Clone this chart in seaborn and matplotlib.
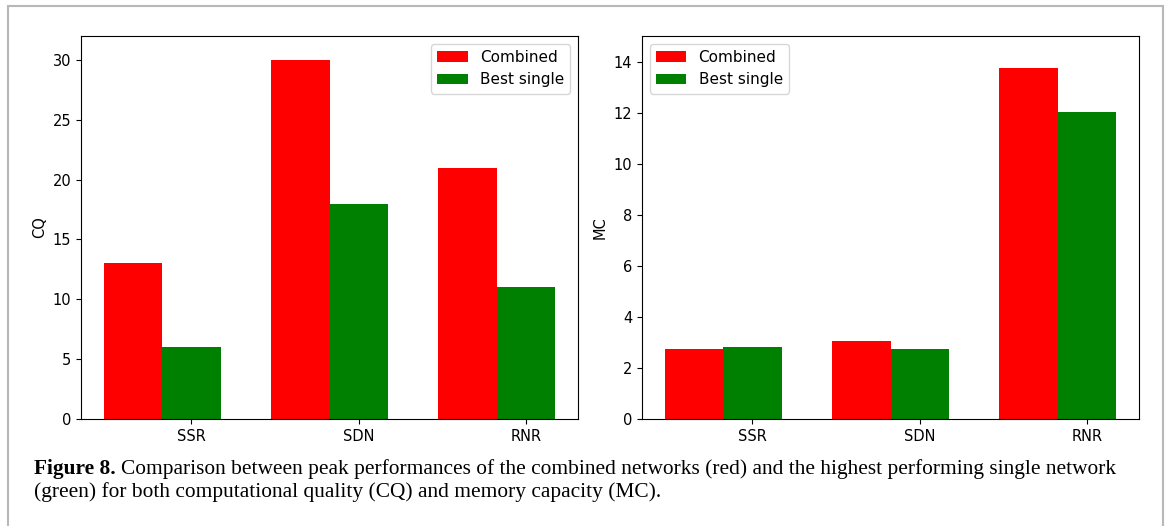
import matplotlib
matplotlib.use("Agg")
import matplotlib.pyplot as plt
import matplotlib.patches as mpatches
import pandas as pd
import seaborn as sns

networks = ["SSR", "SDN", "RNR"]
cq_combined = [13, 30, 21]
cq_best = [6, 18, 11]
mc_combined = [2.73, 3.04, 13.73]
mc_best = [2.81, 2.76, 12.04]

kinds = ["Combined", "Best single"]
colors = {"Combined": "red", "Best single": "green"}

df = pd.DataFrame({
    "net": networks * 2,
    "kind": ["Combined"] * 3 + ["Best single"] * 3,
    "CQ": cq_combined + cq_best,
    "MC": mc_combined + mc_best,
})

plt.rcParams["font.size"] = 10.5

W, H = 1168, 526
fig = plt.figure(figsize=(W / 100, H / 100), dpi=100)
# light grey frame round the whole figure, open at the bottom
fig.patches.append(mpatches.Rectangle((8 / W, -0.05), 1155 / W, 1.05 - 6 / H,
                                      transform=fig.transFigure, fill=False,
                                      edgecolor="#b8b8b8", linewidth=1.5))

ax1 = fig.add_axes([81 / W, (H - 419) / H, 497 / W, 383 / H])
ax2 = fig.add_axes([642 / W, (H - 419) / H, 497 / W, 383 / H])

for ax, col, ylim, loc in [(ax1, "CQ", 32, "upper right"), (ax2, "MC", 15, "upper left")]:
    sns.barplot(data=df, x="net", y=col, hue="kind", hue_order=kinds, palette=colors,
                width=0.7, saturation=1, ax=ax, errorbar=None)
    ax.set_xlim(-0.485, 2.485)
    ax.set_ylim(0, ylim)
    ax.set_xticks([0.175, 1.175, 2.175])
    ax.set_xticklabels(networks)
    ax.set_xlabel("")
    ax.set_ylabel(col)
    ax.legend(loc=loc, fontsize=11)

ax1.set_yticks(range(0, 31, 5))
ax2.set_yticks(range(0, 15, 2))

serif = "Liberation Serif"
fig.canvas.draw()
t1 = fig.text(34 / W, 1 - 474 / H, "Figure 8.", fontsize=15.4, fontweight="bold",
              family=serif, va="baseline")
bb = t1.get_window_extent(fig.canvas.get_renderer())
fig.text(bb.x1 / W + 5 / W, 1 - 474 / H,
         "Comparison between peak performances of the combined networks (red) and the highest performing single network",
         fontsize=15.4, family=serif, va="baseline")
fig.text(34 / W, 1 - 497 / H,
         "(green) for both computational quality (CQ) and memory capacity (MC).",
         fontsize=15.4, family=serif, va="baseline")

fig.savefig("out.png", dpi=100)
